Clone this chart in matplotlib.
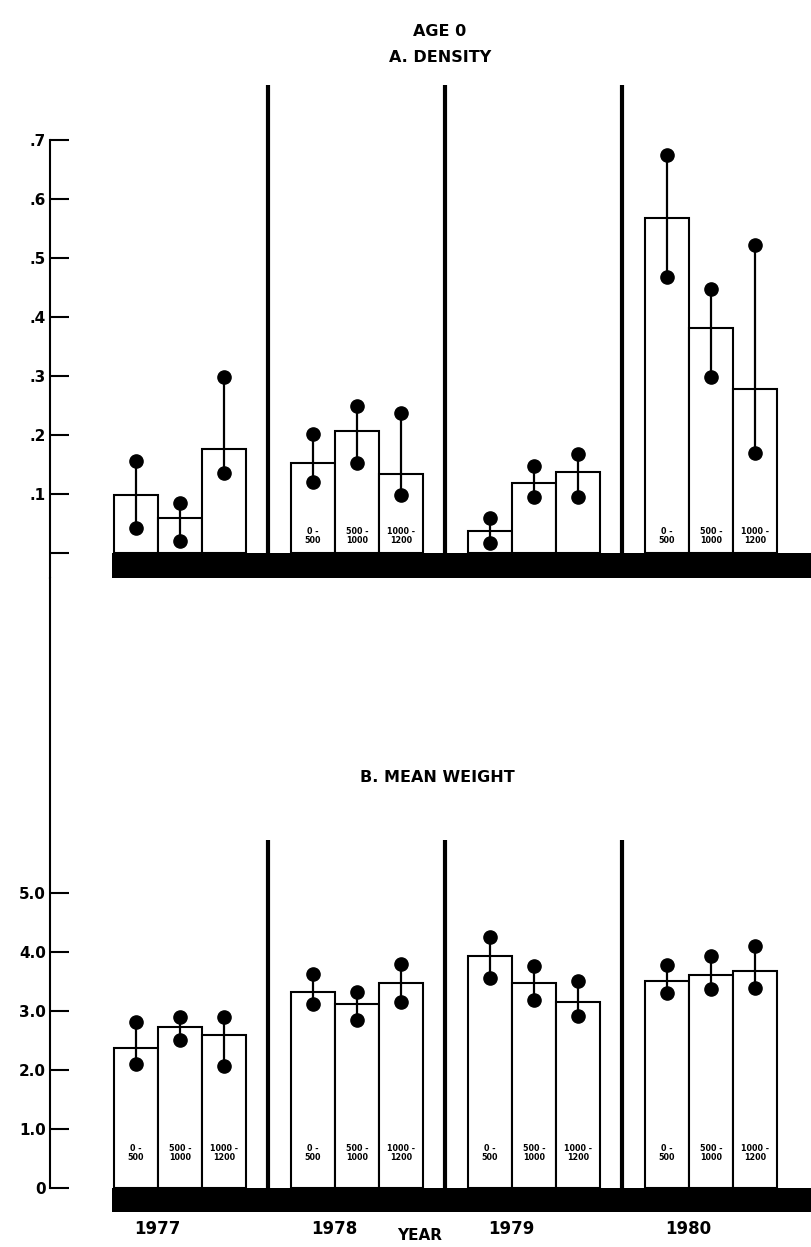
import matplotlib.pyplot as plt
import numpy as np

plt.rcParams['font.family'] = ['DejaVu Sans']
plt.rcParams['font.weight'] = 'bold'

years = ['1977', '1978', '1979', '1980']
depths = ['0 -\n500', '500 -\n1000', '1000 -\n1200']

# A. density (mean, lower dot, upper dot) per year x depth
dens_mean = [[0.098, 0.059, 0.176],
             [0.153, 0.207, 0.134],
             [0.037, 0.119, 0.137],
             [0.568, 0.381, 0.278]]
dens_lo = [[0.042, 0.020, 0.136],
           [0.120, 0.153, 0.098],
           [0.017, 0.095, 0.095],
           [0.468, 0.298, 0.169]]
dens_hi = [[0.156, 0.085, 0.298],
           [0.202, 0.249, 0.237],
           [0.059, 0.147, 0.168],
           [0.675, 0.447, 0.522]]

# B. mean weight
wt_mean = [[2.37, 2.73, 2.59],
           [3.32, 3.12, 3.47],
           [3.93, 3.47, 3.15],
           [3.51, 3.61, 3.68]]
wt_lo = [[2.10, 2.51, 2.07],
         [3.12, 2.85, 3.15],
         [3.56, 3.19, 2.92],
         [3.31, 3.37, 3.39]]
wt_hi = [[2.81, 2.90, 2.90],
         [3.63, 3.32, 3.80],
         [4.25, 3.76, 3.51],
         [3.78, 3.93, 4.10]]

dens_ticks = [0, 0.1, 0.2, 0.3, 0.4, 0.5, 0.6, 0.7]
dens_ticklabels = ['', '.1', '.2', '.3', '.4', '.5', '.6', '.7']
wt_ticks = [0, 1, 2, 3, 4, 5]
wt_ticklabels = ['0', '1.0', '2.0', '3.0', '4.0', '5.0']

# which years carry the depth labels inside the bars
dens_label_years = [1, 3]
wt_label_years = [0, 1, 2, 3]

W, H = 811, 1247
fig = plt.figure(figsize=(W / 100, H / 100), dpi=100)

bw = 0.25
offsets = np.array([-bw, 0, bw])
x_left, x_right = -0.734, 3.565


def px_axes(left, top, right, bottom):
    return fig.add_axes([left / W, 1 - bottom / H, (right - left) / W, (bottom - top) / H])


def draw_panel(ax, mean, lo, hi, ylim, sep_top, band, ticks, ticklabels, label_years, label_y):
    ax.set_xlim(x_left, x_right)
    ax.set_ylim(*ylim)
    for i in range(len(years)):
        xs = i + offsets
        ax.bar(xs, mean[i], width=bw, facecolor='white', edgecolor='black', linewidth=1.5, zorder=2)
        for j in range(3):
            ax.plot([xs[j], xs[j]], [lo[i][j], hi[i][j]], color='black', linewidth=1.6, zorder=3)
            ax.plot([xs[j], xs[j]], [lo[i][j], hi[i][j]], 'o', color='black', markersize=9.5, zorder=4)
            if i in label_years:
                ax.text(xs[j], label_y, depths[j], ha='center', va='center', fontsize=5.8,
                        fontweight='bold', linespacing=0.95, zorder=5)
    # year separators
    ax.vlines([i + 0.5 for i in range(len(years) - 1)], 0, sep_top, color='black', linewidth=3, zorder=3)
    # black base band
    x0 = offsets[0] - bw / 2 - 0.01
    ax.fill_between([x0, x_right], band, 0, color='black', linewidth=0, zorder=6)
    ax.set_yticks(ticks)
    ax.set_yticklabels(ticklabels, fontsize=11, fontweight='heavy')
    ax.tick_params(axis='y', direction='in', length=14, width=1.5, pad=3)
    for s in ['top', 'right', 'bottom']:
        ax.spines[s].set_visible(False)
    ax.spines['left'].set_linewidth(1.5)


# top panel: zero at y=553 px, 590 px per unit
ax1 = px_axes(50, 85, 811, 578)
y1_bottom = -25 / 590
y1_top = (553 - 85) / 590
draw_panel(ax1, dens_mean, dens_lo, dens_hi, (y1_bottom, y1_top), y1_top, y1_bottom,
           dens_ticks, dens_ticklabels, dens_label_years, 17 / 590)
ax1.spines['left'].set_bounds(y1_bottom, 0.7)
ax1.set_xticks([])

# bottom panel: zero at y=1188 px, 59 px per unit; axes extended up to join the left axis line
ax2 = px_axes(50, 578, 811, 1212)
y2_bottom = -24 / 59
y2_top = (1188 - 578) / 59
draw_panel(ax2, wt_mean, wt_lo, wt_hi, (y2_bottom, y2_top), (1188 - 840) / 59, y2_bottom,
           wt_ticks, wt_ticklabels, wt_label_years, 35 / 59)
ax2.spines['left'].set_bounds(0, y2_top)
ax2.set_xticks([i - 0.13 for i in range(len(years))])
ax2.set_xticklabels(years, fontsize=12, fontweight='heavy')
ax2.tick_params(axis='x', length=0, pad=6)
ax2.text(1.356, -0.81, 'YEAR', ha='center', va='center', fontsize=11, fontweight='heavy')

fig.text(440 / W, 1 - 31 / H, 'AGE 0', ha='center', va='center', fontsize=11.5, fontweight='heavy')
fig.text(440 / W, 1 - 58 / H, 'A. DENSITY', ha='center', va='center', fontsize=11.5, fontweight='heavy')
fig.text(437 / W, 1 - 777 / H, 'B. MEAN WEIGHT', ha='center', va='center', fontsize=11.5, fontweight='heavy')

fig.savefig('out.png', dpi=100)
